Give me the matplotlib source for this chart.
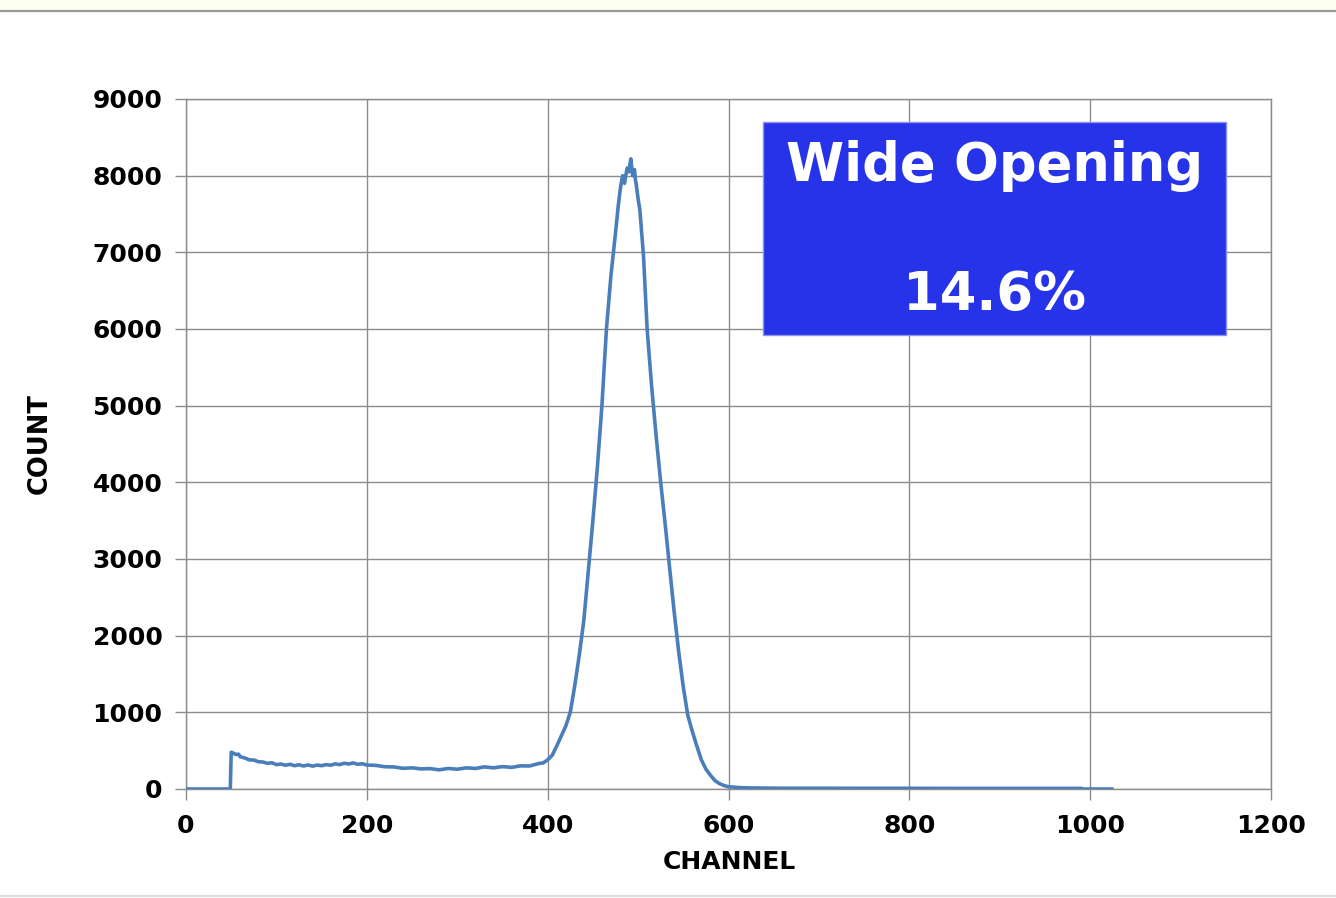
import matplotlib
matplotlib.use("Agg")
import matplotlib.pyplot as plt
from matplotlib.patches import Rectangle
from matplotlib.lines import Line2D

# ---- data ----
channels = [0, 49, 50, 52, 55, 58, 60, 65, 70, 75, 80, 85, 90, 95, 100, 105, 110, 115,
            120, 125, 130, 135, 140, 145, 150, 155, 160, 165, 170, 175, 180, 185, 190,
            195, 200, 210, 220, 230, 240, 250, 260, 270, 280, 290, 300, 310, 320, 330,
            340, 350, 360, 370, 380, 390, 395, 400, 405, 410, 415, 420, 425, 430, 435,
            440, 445, 450, 455, 460, 465, 470, 475, 478, 480, 482, 483, 485, 486, 488,
            490, 491, 492, 494, 496, 497, 498, 500, 502, 503, 506, 510, 515, 520, 525,
            530, 535, 540, 545, 550, 555, 560, 565, 570, 575, 580, 585, 590, 595, 600,
            610, 620, 640, 660, 700, 750, 800, 850, 900, 950, 990, 993, 1000, 1024]
counts = [0, 0, 480, 470, 450, 455, 420, 405, 380, 378, 355, 352, 335, 342, 318, 326,
          310, 322, 304, 316, 300, 314, 298, 312, 304, 318, 310, 328, 318, 336, 326,
          340, 322, 330, 312, 308, 290, 288, 270, 276, 262, 266, 250, 268, 258, 276,
          268, 288, 276, 292, 282, 302, 300, 332, 340, 380, 440, 560, 690, 820, 1000,
          1350, 1750, 2200, 2850, 3500, 4200, 5000, 6000, 6700, 7250, 7600, 7800, 7950,
          8000, 7900, 7980, 8100, 8050, 8150, 8220, 8000, 8080, 7950, 7880, 7700, 7550,
          7400, 6950, 6000, 5250, 4600, 4000, 3450, 2870, 2300, 1780, 1330, 960, 750,
          560, 380, 260, 180, 110, 70, 45, 30, 20, 15, 12, 10, 10, 9, 9, 8, 8, 8, 8, 0,
          0, 0]

x_ticks = [0, 200, 400, 600, 800, 1000, 1200]
y_ticks = [0, 1000, 2000, 3000, 4000, 5000, 6000, 7000, 8000, 9000]
x_label = "CHANNEL"
y_label = "COUNT"
box_title = "Wide Opening"
box_value = "14.6%"

# ---- figure ----
W, H = 1336, 898
fig = plt.figure(figsize=(W / 100, H / 100), dpi=100)
fig.patch.set_facecolor("white")

# top band and lines of the page
fig.patches.append(Rectangle((0, 1 - 9 / H), 1, 9 / H, transform=fig.transFigure,
                             facecolor="#fdfff0", edgecolor="none", zorder=0))
fig.lines.append(Line2D([0, 1], [1 - 10.5 / H, 1 - 10.5 / H], transform=fig.transFigure,
                        color="#999999", linewidth=1.6))
fig.lines.append(Line2D([0, 1], [1 - 896 / H, 1 - 896 / H], transform=fig.transFigure,
                        color="#dddddd", linewidth=1.5))

left, right, top, bottom = 186 / W, 1271 / W, 99 / H, 789 / H
ax = fig.add_axes([left, 1 - bottom, right - left, bottom - top])

grid_c = "#8c8c8c"
ax.plot(channels, counts, color="#4a7ebb", linewidth=2.6, zorder=3,
        solid_joinstyle="round")

ax.set_xlim(0, 1200)
ax.set_ylim(0, 9000)
ax.set_xticks(x_ticks)
ax.set_yticks(y_ticks)
ax.grid(True, color=grid_c, linewidth=1.0)
ax.set_axisbelow(True)
for s in ax.spines.values():
    s.set_color(grid_c)
    s.set_linewidth(1.0)

ax.tick_params(axis="both", colors=grid_c, length=8, width=1.0, labelcolor="black",
               labelsize=18)
ax.tick_params(axis="x", pad=10)
ax.tick_params(axis="y", pad=9)
for lbl in ax.get_xticklabels() + ax.get_yticklabels():
    lbl.set_fontweight("bold")

fig.text(729 / W, 1 - 862 / H, x_label, ha="center", va="center",
         fontsize=18, fontweight="bold")
fig.text(40 / W, 1 - 444 / H, y_label, ha="center", va="center", rotation=90,
         fontsize=18.5, fontweight="bold")

# blue box
bx0, bx1 = (763 - 186) / 1085, (1226 - 186) / 1085
by0, by1 = (789 - 335) / 690, (789 - 122) / 690
ax.add_patch(Rectangle((bx0, by0), bx1 - bx0, by1 - by0, transform=ax.transAxes,
                       facecolor="#2633e8", edgecolor="#8a90f0", linewidth=1.0,
                       zorder=5))
fig.text(995 / W, 1 - 166 / H, box_title, ha="center", va="center", color="white",
         fontsize=38, fontweight="bold", zorder=6)
fig.text(995 / W, 1 - 295 / H, box_value, ha="center", va="center", color="white",
         fontsize=38, fontweight="bold", zorder=6)

fig.savefig("out.png", dpi=100)
